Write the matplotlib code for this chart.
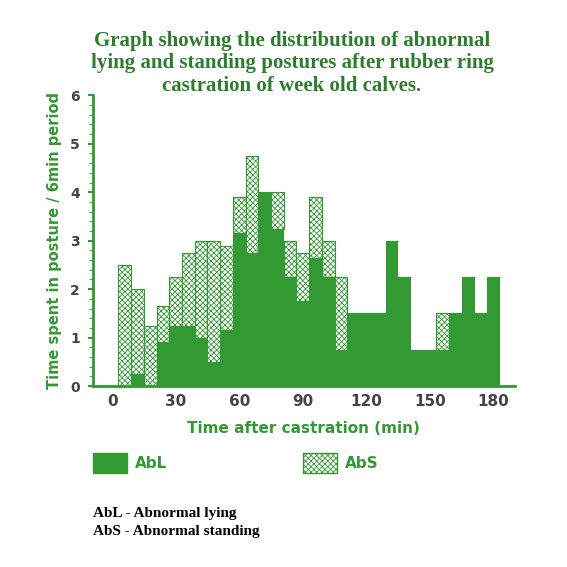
import matplotlib
matplotlib.use("Agg")
import matplotlib.pyplot as plt
from matplotlib.patches import Rectangle
from matplotlib.ticker import MultipleLocator

times = list(range(6, 181, 6))
abl = [0, 0.25, 0, 0.9, 1.25, 1.25, 1.0, 0.5, 1.15, 3.15, 2.75, 4.0, 3.25, 2.25, 1.75,
       2.65, 2.25, 0.75, 1.5, 1.5, 1.5, 3.0, 2.25, 0.75, 0.75, 0.75, 1.5, 2.25, 1.5, 2.25]
total = [2.5, 2.0, 1.25, 1.65, 2.25, 2.75, 3.0, 3.0, 2.9, 3.9, 4.75, 4.0, 4.0, 3.0, 2.75,
         3.9, 3.0, 2.25, 1.5, 1.5, 1.5, 3.0, 2.25, 0.75, 0.75, 1.5, 1.5, 2.25, 1.5, 2.25]
abs_ = [t - l for t, l in zip(total, abl)]
xticks = [0, 30, 60, 90, 120, 150, 180]

G = "#339933"
plt.rcParams['hatch.color'] = G
plt.rcParams['hatch.linewidth'] = 0.6
fig = plt.figure(figsize=(5.67, 5.67), dpi=100)
ax = fig.add_axes([0.164, 0.319, 0.744, 0.513])
ax.bar(times, abl, width=6, color=G, linewidth=0)
ax.bar(times, abs_, bottom=abl, width=6, color="white", edgecolor=G, hatch="xxxxxx", linewidth=0.8)
ax.set_xlim(-9, 190)
ax.set_ylim(0, 6)
ax.set_xticks(xticks)
ax.yaxis.set_major_locator(MultipleLocator(1))
ax.yaxis.set_minor_locator(MultipleLocator(0.2))
for s in ["top", "right"]:
    ax.spines[s].set_visible(False)
for s in ["left", "bottom"]:
    ax.spines[s].set_color(G)
    ax.spines[s].set_linewidth(2)
ax.tick_params(colors=G, labelcolor="#444444", labelsize=11, width=1.5)
ax.tick_params(axis="x", length=0, pad=6)
ax.tick_params(axis="y", labelsize=10, pad=6)
ax.tick_params(axis="y", which="minor", color=G, length=3)
for lab in ax.get_xticklabels() + ax.get_yticklabels():
    lab.set_fontweight("bold")
ax.set_xlabel("Time after castration (min)", color=G, fontweight="bold", fontsize=11, labelpad=8)
ax.set_ylabel("Time spent in posture / 6min period", color=G, fontweight="bold", fontsize=10.5, labelpad=6)

fig.text(0.515, 0.945, "Graph showing the distribution of abnormal\nlying and standing postures after rubber ring\ncastration of week old calves.",
         ha="center", va="top", color="#2e7d2e", fontweight="bold", fontsize=15,
         family="Liberation Serif", linespacing=1.15)

fig.patches.append(Rectangle((0.164, 0.166), 0.06, 0.035, transform=fig.transFigure, facecolor=G, edgecolor=G))
fig.patches.append(Rectangle((0.534, 0.166), 0.06, 0.035, transform=fig.transFigure, facecolor="white",
                             edgecolor=G, hatch="xxxxxx"))
fig.text(0.238, 0.183, "AbL", color=G, fontweight="bold", fontsize=11, va="center")
fig.text(0.608, 0.183, "AbS", color=G, fontweight="bold", fontsize=11, va="center")
fig.text(0.164, 0.079, "AbL - Abnormal lying\nAbS - Abnormal standing", color="black", fontweight="bold",
         fontsize=11, family="Liberation Serif", va="center", linespacing=1.5)
fig.savefig("out.png", dpi=100)
